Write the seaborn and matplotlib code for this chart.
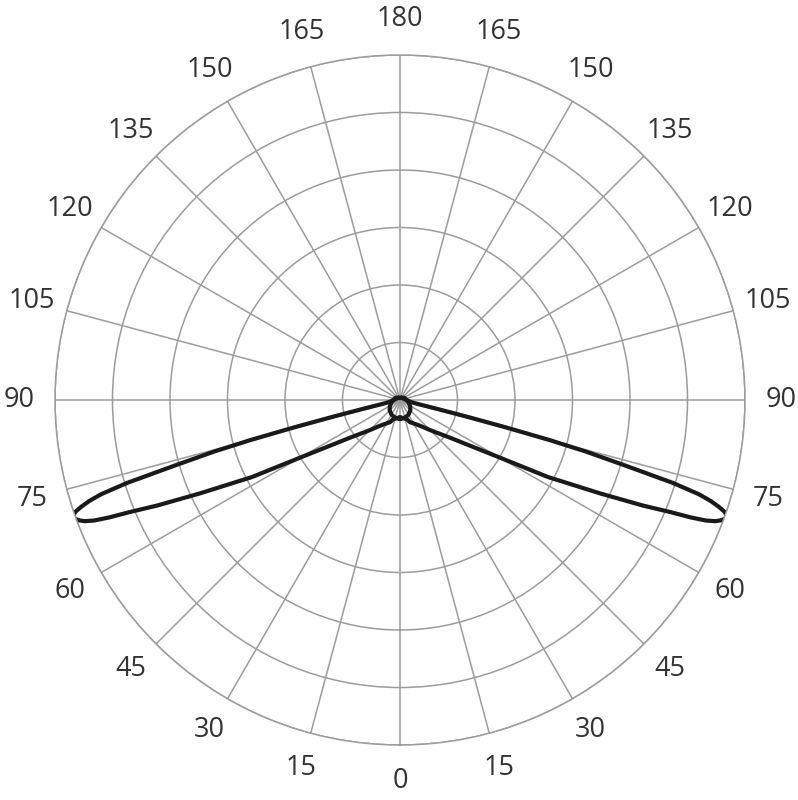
import numpy as np
import pandas as pd
import matplotlib
matplotlib.use("Agg")
import matplotlib.pyplot as plt
import seaborn as sns

# angles measured from nadir (0) to zenith (180), same on both sides
lobe_angles = [0, 10, 20, 24, 30, 38, 45, 53, 60, 62.5, 65, 66.5, 67.5, 68.0, 68.5, 69.0,
               69.5, 70.0, 70.5, 71.0, 71.5, 72.0, 72.5, 73.1, 73.8, 74.5, 75, 75.5, 76,
               76.5, 77.5, 80, 90, 120, 150, 180]
lobe_values = [0.30, 0.32, 0.36, 0.42, 0.47, 0.57, 0.74, 1.09, 2.0, 2.9, 3.85, 4.6, 5.1,
               5.45, 5.72, 5.88, 5.97, 6.02, 6.03, 5.97, 5.84, 5.68, 5.45, 4.96, 4.05,
               3.35, 2.7, 1.9, 1.2, 0.7, 0.3, 0.18, 0.12, 0.08, 0.05, 0.04]

circle_angles = [0, 15, 30, 45, 60, 75, 90, 105, 120, 135, 150, 165, 180]
circle_values = [0.33, 0.32, 0.295, 0.254, 0.203, 0.152, 0.107, 0.076, 0.056,
                 0.045, 0.039, 0.036, 0.035]

tick_angles = list(range(0, 360, 15))
tick_labels = [str(a) if a <= 180 else str(360 - a) for a in tick_angles]
ring_values = [1, 2, 3, 4, 5, 6]


def mirrored(angles, values):
    # right half going up, then left half coming back down
    ang = list(angles) + [360 - a for a in reversed(angles)]
    val = list(values) + list(reversed(values))
    return pd.DataFrame({"theta": np.deg2rad(ang), "r": val})


sns.set_theme(style="white")
plt.rcParams["font.family"] = ["Open Sans", "DejaVu Sans"]

fig = plt.figure(figsize=(7.98, 8.0), dpi=100)
ax = fig.add_axes([55 / 798, 55 / 800, 690 / 798, 690 / 800], projection="polar")
ax.set_theta_zero_location("S")
ax.set_theta_direction(1)

grid_color = "#9c9c9c"
ax.set_ylim(0, 6)
ax.set_rgrids(ring_values, labels=[""] * len(ring_values))
ax.set_thetagrids(tick_angles, labels=tick_labels)
ax.grid(True, color=grid_color, linewidth=1.1)
ax.spines["polar"].set_color(grid_color)
ax.spines["polar"].set_linewidth(1.1)
ax.tick_params(axis="x", pad=13, labelsize=19.5, labelcolor="#333333")

line_color = "#1a1a1a"
sns.lineplot(data=mirrored(circle_angles, circle_values), x="theta", y="r",
             sort=False, estimator=None, color=line_color, linewidth=3, ax=ax)
sns.lineplot(data=mirrored(lobe_angles, lobe_values), x="theta", y="r",
             sort=False, estimator=None, color=line_color, linewidth=3, ax=ax)
ax.set_xlabel("")
ax.set_ylabel("")

fig.savefig("out.png", dpi=100)
